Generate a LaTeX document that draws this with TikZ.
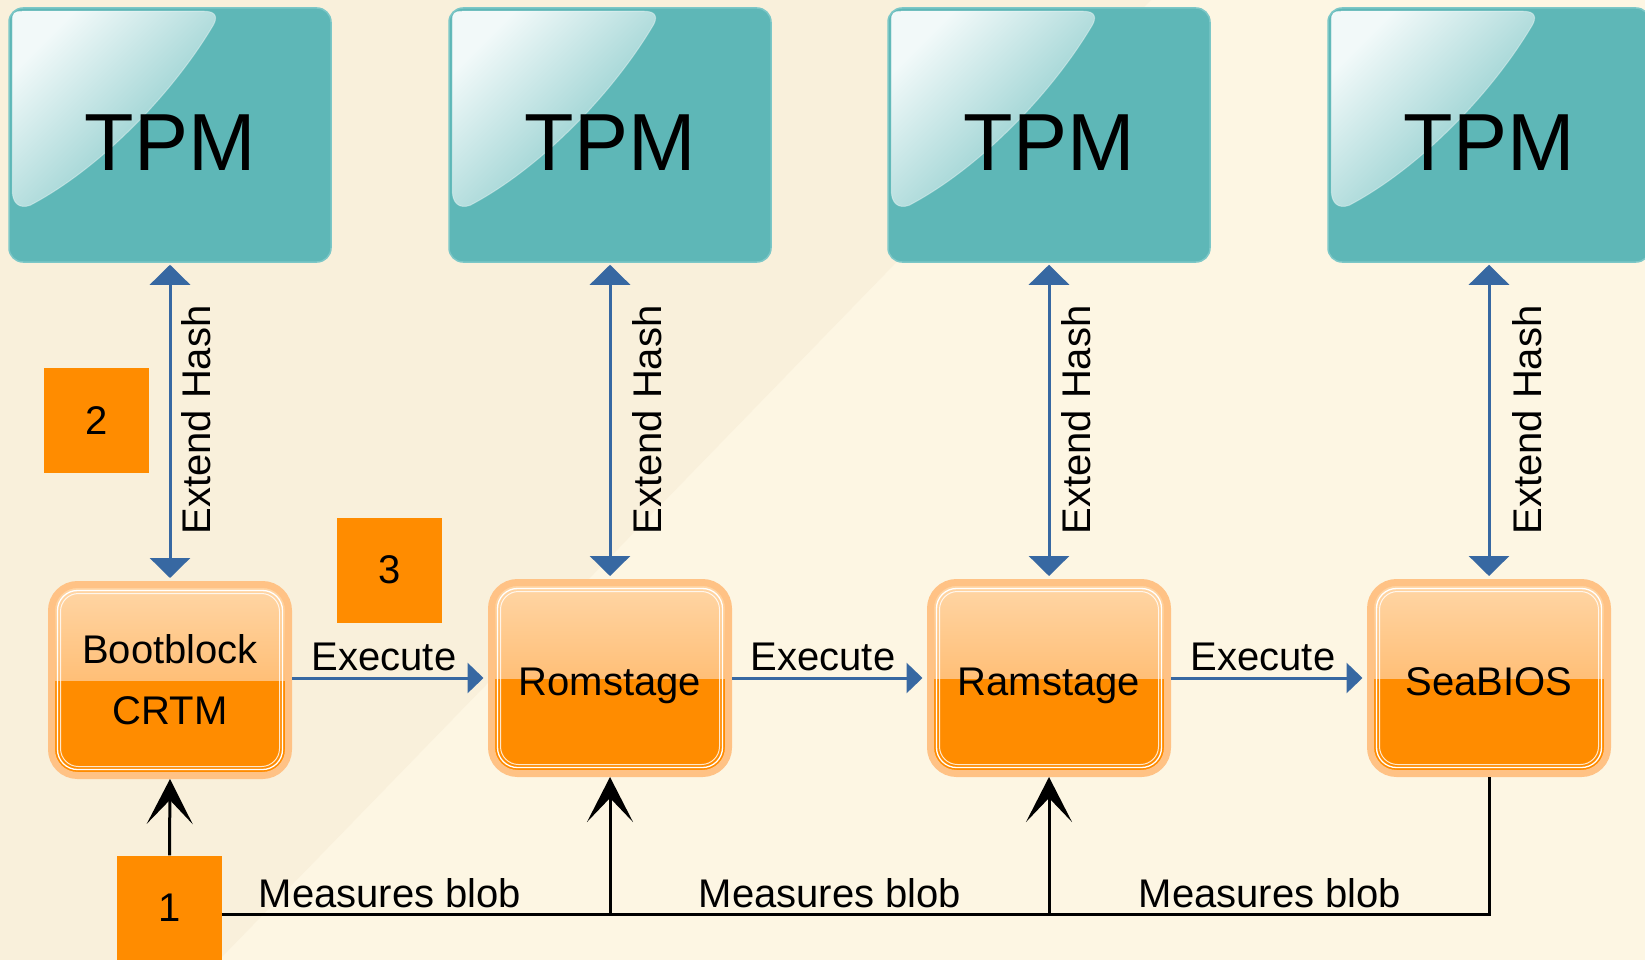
\documentclass[tikz,border=0pt]{standalone}
\usepackage{fontspec}
\setmainfont{Liberation Sans}
\usetikzlibrary{arrows.meta}
\definecolor{bgA}{HTML}{F9F0DB}
\definecolor{bgB}{HTML}{FDF6E3}
\definecolor{tpmteal}{HTML}{5EB7B7}
\definecolor{tpmedge}{HTML}{7CC7C7}
\definecolor{orng}{HTML}{FF8C00}
\definecolor{oglow}{HTML}{FFC285}
\definecolor{otop}{HTML}{FFD6A6}
\definecolor{omid}{HTML}{FFA849}
\definecolor{arrblue}{HTML}{3768A2}
\tikzset{
  tpm/.style={rectangle, rounded corners=14pt, minimum width=322pt, minimum height=254pt,
    fill=tpmteal, draw=tpmedge, line width=1.5pt, inner sep=0pt},
  tpmtxt/.style={inner sep=0pt, text height=72pt, text depth=0pt, font=\fontsize{81}{90}\selectfont},
  gloss/.style={sharp corners, top color=white!92!tpmteal, bottom color=white!18!tpmteal,
    shading angle=45, draw=white, draw opacity=0.35, line width=1pt},
  obox/.style={rectangle, rounded corners=26pt, minimum width=237pt, minimum height=191pt,
    fill=orng, draw=oglow, line width=7pt, inner sep=0pt, align=center,
    font=\fontsize{40}{61}\selectfont,
    path picture={
      \fill[sharp corners, top color=otop, bottom color=omid]
        ([yshift=-3.5pt]path picture bounding box.north west) rectangle (path picture bounding box.east);
      \draw[white, line width=1.3pt, rounded corners=20pt]
        ([xshift=6pt,yshift=-6pt]path picture bounding box.north west) rectangle
        ([xshift=-6pt,yshift=6pt]path picture bounding box.south east);
      \draw[white, line width=1pt, rounded corners=18pt, opacity=0.8]
        ([xshift=9pt,yshift=-9pt]path picture bounding box.north west) rectangle
        ([xshift=-9pt,yshift=9pt]path picture bounding box.south east);
    }},
  oone/.style={obox, text height=35pt, text depth=0pt},
  numbox/.style={rectangle, fill=orng, minimum width=105pt, minimum height=105pt,
    inner sep=0pt, font=\fontsize{40}{48}\selectfont},
  lbl/.style={inner sep=0pt, font=\fontsize{40}{48}\selectfont},
  hash/.style={draw=arrblue, line width=3pt,
    {Triangle[length=20pt,width=40pt]}-{Triangle[length=20pt,width=40pt]},
    shorten <=2pt, shorten >=3pt},
  exec/.style={draw=arrblue, line width=3pt, -{Triangle[length=16pt,width=30pt]}, shorten >=4.5pt},
  meas/.style={draw=black, line width=3pt, -{Stealth[length=45pt,width=46pt,inset=24pt]}},
  bline/.style={draw=black, line width=3pt},
}
\newcommand{\tpmgloss}[1]{%
  \path[gloss, shift={(#1.north west)}]
    (4,183) -- (4,14) .. controls (4,6) and (6,4) .. (14,4) -- (196,4)
    .. controls (209,4) and (209,11) .. (205,18)
    .. controls (166,84) and (94,160) .. (22,198)
    .. controls (11,202) and (4,196) .. (4,183) -- cycle;}
\begin{document}
\begin{tikzpicture}[x=1pt,y=-1pt]
\useasboundingbox (0,0) rectangle (1645,960);
\fill[bgB] (0,0) rectangle (1645,960);
\fill[bgA] (0,0) -- (1151,0) -- (219,960) -- (0,960) -- cycle;

% TPM boxes
\node[tpm] (t1) at (170,135) {};
\node[tpm] (t2) at (610,135) {};
\node[tpm] (t3) at (1049,135) {};
\node[tpm] (t4) at (1489,135) {};
\tpmgloss{t1}\tpmgloss{t2}\tpmgloss{t3}\tpmgloss{t4}
\node[tpmtxt] (l1) at (t1) {TPM};
\node[tpmtxt] (l2) at (t2) {TPM};
\node[tpmtxt] (l3) at (t3) {TPM};
\node[tpmtxt] (l4) at (t4) {TPM};

% stage boxes
\node[obox] (s1) at (170,680) {Bootblock\\CRTM};
\node[oone] (s2) at (610,678) {Romstage};
\node[oone] (s3) at (1049,678) {Ramstage};
\node[oone] (s4) at (1489,678) {SeaBIOS};

% number boxes
\node[numbox] (n2) at (96.5,420.5) {2};
\node[numbox] (n3) at (389.5,570) {3};
\node[numbox] (n1) at (169.5,908) {1};

% extend hash arrows
\draw[hash] (t1.south) -- (s1.north);
\draw[hash] (t2.south) -- (s2.north);
\draw[hash] (t3.south) -- (s3.north);
\draw[hash] (t4.south) -- (s4.north);
\node[lbl, rotate=90] (h1) at (196,420) {Extend Hash};
\node[lbl, rotate=90] (h2) at (647,420) {Extend Hash};
\node[lbl, rotate=90] (h3) at (1076,420) {Extend Hash};
\node[lbl, rotate=90] (h4) at (1527,420) {Extend Hash};

% execute arrows
\draw[exec] (s1.east |- s2.west) -- (s2.west);
\draw[exec] (s2.east) -- (s3.west);
\draw[exec] (s3.east) -- (s4.west);
\node[lbl, anchor=base] (e1) at (384,670) {Execute};
\node[lbl, anchor=base] (e2) at (823,670) {Execute};
\node[lbl, anchor=base] (e3) at (1263,670) {Execute};

% measurement connectors
\coordinate (m0) at (221.5,914);
\coordinate (m2) at (s2.south |- m0);
\coordinate (m3) at (s3.south |- m0);
\coordinate (m4) at (s4.south |- m0);
\draw[bline] (m0) -- (m4) -- (s4.south);
\draw[meas] (n1.north) -- (s1.south);
\draw[meas] (m2) -- (s2.south);
\draw[meas] (m3) -- (s3.south);
\node[lbl, anchor=base] (b1) at (390,907) {Measures blob};
\node[lbl, anchor=base] (b2) at (830,907) {Measures blob};
\node[lbl, anchor=base] (b3) at (1270,907) {Measures blob};
\end{tikzpicture}
\end{document}
